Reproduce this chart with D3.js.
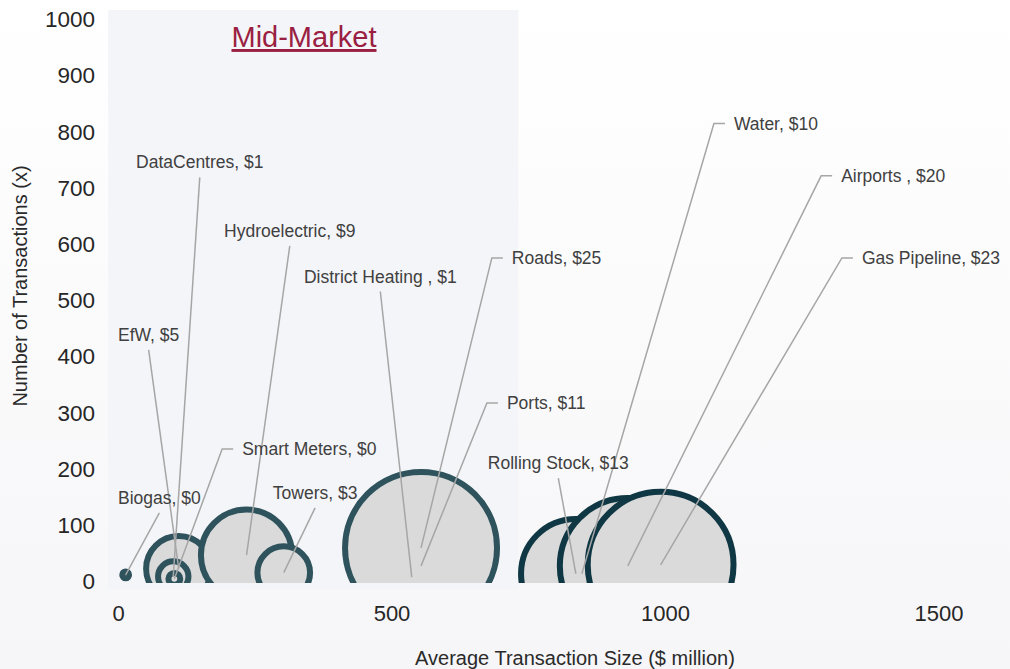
<!DOCTYPE html>
<html><head><meta charset="utf-8">
<script src="https://cdn.jsdelivr.net/npm/d3@7"></script>
<style>html,body{margin:0;padding:0;background:#fff;} svg{display:block;}</style>
</head><body>
<svg id="chart" width="1010" height="669"></svg>
<script>
// ---- data ----
const sectors   = ["Biogas","EfW","DataCentres","Smart Meters","Hydroelectric","Towers","District Heating ","Ports","Roads","Water","Rolling Stock","Airports ","Gas Pipeline"];
const avgSize   = [14, 111, 101, 103, 235, 303, 537, 554, 554, 848, 837, 932, 992];   // $ million
const numTx     = [10, 21, 7, 3, 45, 14, 6, 26, 58, 12, 12, 26, 28];                   // count
const dealValue = [0.05, 4.6, 1.0, 0.15, 9, 3, 1, 11, 25, 10, 13, 20, 23];             // $ bn (bubble size)
const segment   = ["mid","mid","mid","mid","mid","mid","mid","mid","mid","large","large","large","large"];
// label anchor positions (data units: left edge x, centre y)
const labelX    = [0, 0, 33, 227, 194, 283, 340, 711, 720, 1126, 676, 1322, 1360];
const labelY    = [147, 437, 744, 234, 622, 156, 541, 316, 574, 813, 209, 720, 574];
const xTicks = [0, 500, 1000, 1500];
const yTicks = [0,100,200,300,400,500,600,700,800,900,1000];
const midMarketX = [-18, 732];
const midMarketY = [-15, 1015];
const title = "Mid-Market";

// ---- chart ----
const svg = d3.select("#chart");
const W = 1010, H = 669;
const x = d3.scaleLinear().domain([0, 1500]).range([118, 938.5]);
const y = d3.scaleLinear().domain([0, 1000]).range([580.5, 18.5]);
const r = d3.scaleSqrt().domain([0, 25]).range([0, 76]);
const fmt = d3.format("$.0f");
const font = "'Liberation Sans', Arial, Helvetica, sans-serif";

const defs = svg.append("defs");
const g = defs.append("linearGradient").attr("id","bg").attr("x1",0).attr("x2",0).attr("y1",0).attr("y2",1);
g.append("stop").attr("offset","0%").attr("stop-color","#ffffff");
g.append("stop").attr("offset","100%").attr("stop-color","#f6f6f8");
defs.append("clipPath").attr("id","plotclip").append("rect")
  .attr("x", 100).attr("y", 0).attr("width", W-100).attr("height", y(0) + 2.5);

svg.append("rect").attr("width", W).attr("height", H).attr("fill", "url(#bg)");

// mid-market band
svg.append("rect")
  .attr("x", x(midMarketX[0])).attr("y", y(midMarketY[1]))
  .attr("width", x(midMarketX[1]) - x(midMarketX[0]))
  .attr("height", y(midMarketY[0]) - y(midMarketY[1]))
  .attr("fill", "#f4f5f8");

svg.append("text").attr("x", 304).attr("y", 47)
  .attr("text-anchor","middle").attr("font-family", font).attr("font-size", 29)
  .attr("fill", "#9a1f42").attr("text-decoration","underline").text(title);

// axes (labels only)
const xAxis = svg.append("g").attr("transform", `translate(0,${y(0)})`)
  .call(d3.axisBottom(x).tickValues(xTicks).tickSize(0).tickPadding(0).tickFormat(d3.format("d")));
xAxis.select(".domain").remove();
xAxis.selectAll("text").attr("y", 40).attr("dy", 0).attr("font-size", 22).attr("font-family", font).attr("fill", "#262626");

const yAxis = svg.append("g").attr("transform", `translate(95,0)`)
  .call(d3.axisLeft(y).tickValues(yTicks).tickSize(0).tickPadding(0).tickFormat(d3.format("d")));
yAxis.select(".domain").remove();
yAxis.selectAll("text").attr("x", 0).attr("dy", "0.36em").attr("font-size", 22.5).attr("font-family", font).attr("fill", "#262626");

svg.append("text").attr("x", 575).attr("y", 665)
  .attr("text-anchor","middle").attr("font-family", font).attr("font-size", 20).attr("fill","#2a2a2a")
  .text("Average Transaction Size ($ million)");
svg.append("text").attr("transform", "translate(27,286) rotate(-90)")
  .attr("text-anchor","middle").attr("font-family", font).attr("font-size", 20).attr("fill","#2a2a2a")
  .text("Number of Transactions (x)");

// bubbles
const data = sectors.map((s, i) => ({name: s, xv: avgSize[i], yv: numTx[i], v: dealValue[i], seg: segment[i], lx: labelX[i], ly: labelY[i]}));
const stroke = {mid: "#2f535d", large: "#103844"};
svg.append("g").attr("clip-path","url(#plotclip)")
  .selectAll("circle").data(data).join("circle")
  .attr("cx", d => x(d.xv)).attr("cy", d => y(d.yv)).attr("r", d => r(d.v))
  .attr("fill", "#dadada").attr("stroke", d => stroke[d.seg]).attr("stroke-width", 6);

// labels + leader lines
const lines = svg.append("g");
const labels = svg.append("g");
data.forEach(d => {
  const lx = x(d.lx), ly = y(d.ly);
  const t = labels.append("text").attr("x", lx).attr("y", ly).attr("dy","0.35em")
    .attr("font-family", font).attr("font-size", 17.5).attr("fill", "#404040")
    .text(d.name + ", " + fmt(d.v));
  const w = t.node().getComputedTextLength();
  const px = x(d.xv), py = y(d.yv);
  let path;
  if (px >= lx - 2 && px <= lx + w + 2) {
    path = `M${lx + w/2},${ly + 15}L${px},${py}`;
  } else {
    path = `M${lx - 9},${ly}L${lx - 20},${ly}L${px},${py}`;
  }
  lines.append("path").attr("d", path).attr("fill","none").attr("stroke","#a6a6a6").attr("stroke-width",1.5);
});
</script>
</body></html>
